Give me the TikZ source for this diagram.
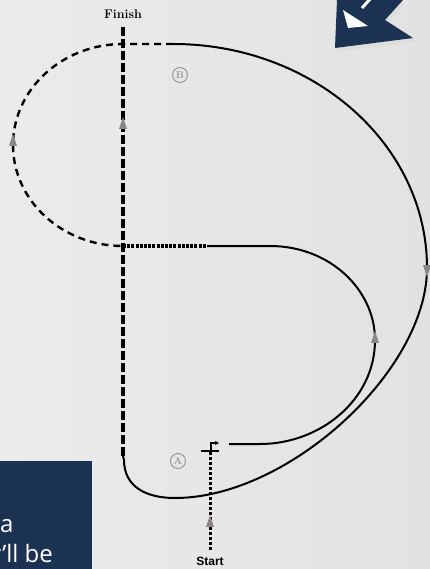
\documentclass[tikz,border=0pt]{standalone}
\usepackage{fontspec}
\newfontfamily\boxfont{Open Sans}
\newfontfamily\startfont{Liberation Sans}
\usetikzlibrary{shapes.geometric,arrows.meta}
\definecolor{navy}{HTML}{1B3252}
\definecolor{arrowgray}{HTML}{8B8585}
\definecolor{circgray}{HTML}{9A9A9A}
\definecolor{bgL}{HTML}{EBEBEB}
\definecolor{bgM}{HTML}{F4F4F4}
\definecolor{bgR}{HTML}{E2E2E2}
\begin{document}
\begin{tikzpicture}[x=1pt,y=-1pt,
  finishline/.style={line width=4pt, dash pattern=on 9pt off 3pt},
  loopdash/.style={line width=2.4pt, dash pattern=on 7pt off 5pt},
  dotline/.style={line width=4pt, dash pattern=on 3pt off 1.2pt},
  startdots/.style={line width=3pt, dash pattern=on 3pt off 2pt},
  track/.style={line width=2pt},
  dirarrow/.style={isosceles triangle, isosceles triangle stretches, fill=arrowgray,
    inner sep=0pt, minimum height=12pt, minimum width=8pt},
  circlab/.style={circle, draw=circgray, line width=1pt, text=circgray,
    font=\bfseries\fontsize{10}{10}\selectfont, minimum size=15pt, inner sep=0pt},
  boxtext/.style={text=white, font=\boxfont\fontsize{24}{24}\selectfont, inner sep=0pt}
]
\useasboundingbox (0,0) rectangle (430,569);
\shade[left color=bgL, middle color=bgM, right color=bgR] (0,0) rectangle (430,569);

% navy icon top right
\fill[gray!30, opacity=0.6] (339,3) -- (405,3) -- (388,23) -- (417,41) -- (337,52) -- cycle;
\fill[navy] (337,0) -- (403,0) -- (385,20) -- (413,38) -- (335,48) -- cycle;
\fill[white] (343,10) -- (368,26) -- (348,28) -- cycle;
\draw[white, line width=3pt] (362,8) -- (371,-2);

% navy text box bottom left
\fill[navy] (0,461) rectangle (92,569);
\begin{scope}
\clip (0,461) rectangle (92,569);
\node[boxtext, anchor=base west] (ta) at (0,532) {a};
\node[boxtext, anchor=base west] (tb) at (-11,562) {y’ll be};
\end{scope}

% coordinates
\coordinate (finTop) at (123,27);
\coordinate (finBot) at (123,456);
\coordinate (topJ) at (123,44);
\coordinate (topS) at (173,44);
\coordinate (midJ) at (123,246);
\coordinate (dotEnd) at (207,246);
\coordinate (innerEnd) at (229,444);
\coordinate (startTop) at (210,452);
\coordinate (startBot) at (210,550);

% outer solid track
\draw[track] (finBot) -- (124,460) .. controls (124,486) and (145,498) .. (175,498)
  .. controls (288,498) and (427,371) .. (427,268)
  .. controls (427,144) and (313,44) .. (topS);
% dashed top and left loop
\draw[loopdash] (topS) -- (topJ) arc[start angle=270, end angle=90, x radius=110, y radius=101];
% dotted middle
\draw[dotline] (midJ) -- (dotEnd);
% inner solid loop
\draw[track] (dotEnd) -- (270,246) .. controls (330,246) and (375,290) .. (375,340)
  .. controls (375,400) and (320,444) .. (260,444) -- (innerEnd);
% finish line
\draw[finishline] (finTop) -- (finBot);
% start line
\draw[startdots] (startBot) -- (startTop);
\draw[line width=2.2pt] (201,451) -- (219,451);
\draw[line width=1.4pt, -{Stealth[length=4pt,width=4pt]}] (211,451) -- (211,443) -- (219,443);

% direction arrows
\node[dirarrow, shape border rotate=90] (a1) at (13,143) {};
\node[dirarrow, shape border rotate=90] (a2) at (123,126) {};
\node[dirarrow, shape border rotate=270] (a3) at (427,268) {};
\node[dirarrow, shape border rotate=90] (a4) at (375,340) {};
\node[dirarrow, shape border rotate=90] (a5) at (210,524) {};

% labels
\node[circlab] (lB) at (180,75) {B};
\node[circlab] (lA) at (178,461) {A};
\node[font=\bfseries\fontsize{12.5}{13}\selectfont] (fin) at (123,14) {Finish};
\node[font=\startfont\bfseries\fontsize{12}{13}\selectfont] (st) at (210,561) {Start};
\end{tikzpicture}
\end{document}
